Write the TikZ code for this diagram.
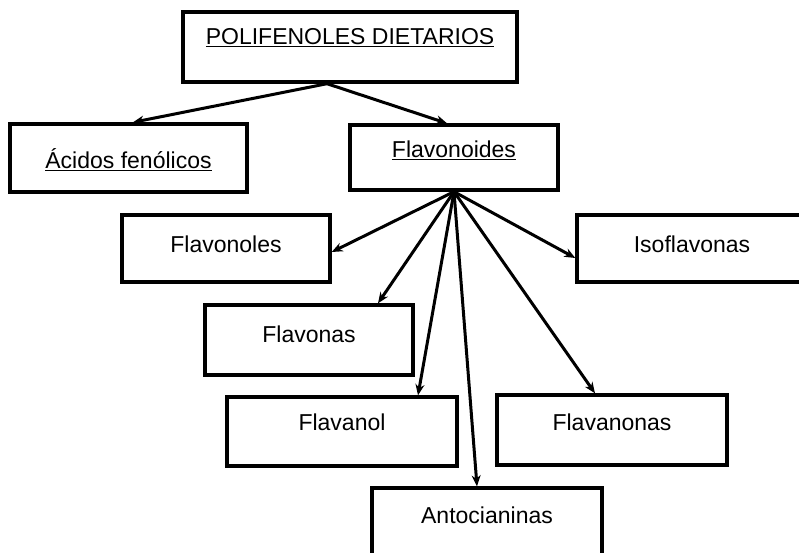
\documentclass[tikz,border=0pt]{standalone}
\usepackage{fontspec}
\setmainfont{Liberation Sans}
\usetikzlibrary{arrows.meta}
\tikzset{
  box/.style={draw=black, line width=3.4pt, rectangle, inner sep=0pt, minimum height=68pt,
    font=\fontsize{23}{27}\selectfont},
  off/.style={text height={20pt+#1}, text depth={20pt-#1}},
  arr/.style={line width=3pt, -{Stealth[length=11pt,width=9pt]}},
}
\begin{document}
\begin{tikzpicture}[x=1pt,y=-1pt]
\useasboundingbox (0,0) rectangle (799,553);
\clip (0,0) rectangle (799,553);
\fill[white] (0,0) rectangle (799,553);
\node[box, minimum width=334pt, minimum height=70pt, off=-2pt] (pol) at (350,47) {\underline{POLIFENOLES DIETARIOS}};
\node[box, minimum width=237pt, off=11pt] (aci) at (128.5,158) {\underline{Ácidos fenólicos}};
\node[box, minimum width=208pt, minimum height=65pt, off=0.5pt] (fld) at (454,157.5) {\underline{Flavonoides}};
\node[box, minimum width=208pt, minimum height=67pt, off=3.5pt] (flo) at (226,248.5) {Flavonoles};
\node[box, minimum width=230pt, minimum height=67pt, off=3.5pt] (iso) at (692,248.5) {Isoflavonas};
\node[box, minimum width=208pt, minimum height=70pt, off=2pt] (fls) at (309,340) {Flavonas};
\node[box, minimum width=230pt, minimum height=69pt, off=-1.5pt] (fla) at (342,431.5) {Flavanol};
\node[box, minimum width=230pt, minimum height=70pt, off=0pt] (flan) at (612,430) {Flavanonas};
\node[box, minimum width=230pt, minimum height=68pt, off=1pt] (ant) at (487,522) {Antocianinas};
\draw[arr] ([xshift=-23pt]pol.south) -- ([xshift=4.5pt]aci.north);
\draw[arr] ([xshift=-23pt]pol.south) -- ([xshift=-7pt]fld.north);
\draw[arr] (fld.south) -- ([yshift=-3.5pt]flo.east);
\draw[arr] (fld.south) -- ([xshift=69pt]fls.north);
\draw[arr] (fld.south) -- ([xshift=76pt]fla.north);
\draw[arr] (fld.south) -- ([xshift=-10pt]ant.north);
\draw[arr] (fld.south) -- ([xshift=-17pt]flan.north);
\draw[arr] (fld.south) -- ([yshift=-9.5pt]iso.west);
\end{tikzpicture}
\end{document}
